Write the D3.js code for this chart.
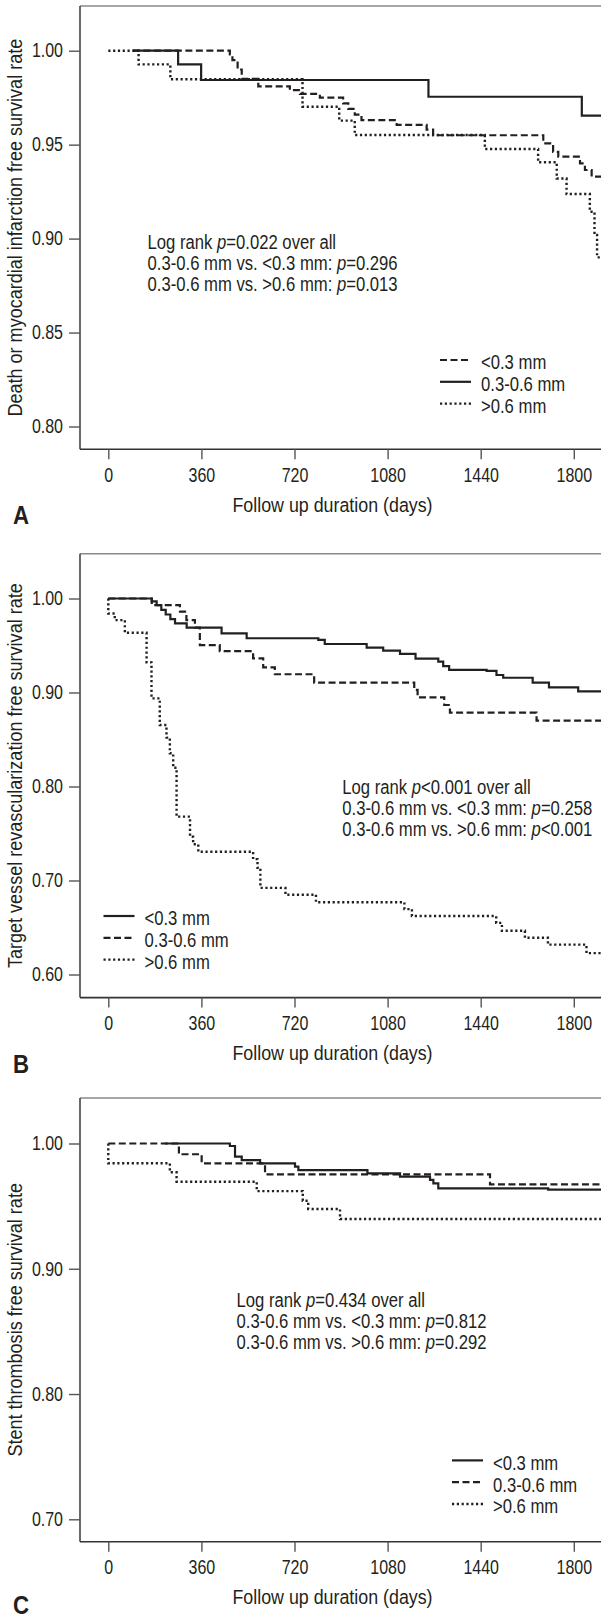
<!DOCTYPE html>
<html>
<head>
<meta charset="utf-8">
<script src="https://cdn.jsdelivr.net/npm/d3@7"></script>
<style>
  body { margin: 0; background: #fff; }
  svg { display: block; font-family: "Liberation Sans", Arial, sans-serif; }
</style>
</head>
<body>
<svg id="chart"></svg>
<script>
// follow up days, shared by the three panels
const dayTicks = [0, 360, 720, 1080, 1440, 1800];

// A: death or MI free survival, [day, rate] at each step
const aTicks = [0.80, 0.85, 0.90, 0.95, 1.00];
const aLow = [[95,1],[470,0.998],[480,0.995],[500,0.990],[516,0.985],[580,0.981],[702,0.979],[741,0.977],[818,0.975],[908,0.972],[928,0.969],[953,0.966],[979,0.963],[1115,0.9605],[1231,0.958],[1256,0.955],[1682,0.9507],[1720,0.9462],[1740,0.9436],[1824,0.940],[1843,0.9365],[1869,0.933],[1930,0.933]];
const aMid = [[95,1],[270,0.9927],[359,0.9844],[1238,0.9755],[1831,0.9654],[1930,0.9654]];
const aHigh = [[0,1],[117,0.9927],[240,0.9848],[751,0.9702],[893,0.9628],[953,0.9551],[1456,0.9477],[1662,0.9406],[1734,0.932],[1772,0.9237],[1862,0.9143],[1880,0.902],[1890,0.890],[1930,0.890]];
const aStats = ["Log rank |p|=0.022 over all", "0.3-0.6 mm vs. <0.3 mm: |p|=0.296", "0.3-0.6 mm vs. >0.6 mm: |p|=0.013"];

// B: target vessel revascularization free survival
const bTicks = [0.60, 0.70, 0.80, 0.90, 1.00];
const bLow = [[0,1],[168,0.997],[187,0.993],[205,0.988],[222,0.983],[240,0.978],[258,0.9736],[303,0.969],[438,0.963],[535,0.9577],[812,0.9559],[837,0.9516],[999,0.9477],[1063,0.9445],[1128,0.941],[1188,0.936],[1276,0.9328],[1295,0.928],[1318,0.924],[1463,0.9229],[1501,0.9186],[1527,0.9157],[1641,0.9104],[1704,0.9055],[1817,0.9013],[1930,0.9013]];
const bMid = [[0,1],[168,0.993],[277,0.986],[302,0.977],[335,0.969],[354,0.9505],[431,0.944],[560,0.9364],[599,0.9268],[644,0.9194],[796,0.9104],[1183,0.9027],[1196,0.8949],[1299,0.8867],[1321,0.8785],[1656,0.870],[1930,0.870]];
const bHigh = [[0,1],[0,0.984],[25,0.977],[64,0.9636],[148,0.932],[167,0.8938],[199,0.8654],[225,0.852],[238,0.8353],[251,0.82],[264,0.7679],[316,0.7466],[328,0.7385],[348,0.7306],[560,0.7227],[577,0.7135],[588,0.6922],[685,0.6849],[803,0.6769],[1145,0.6696],[1174,0.6622],[1500,0.6549],[1522,0.6465],[1611,0.6391],[1700,0.6318],[1849,0.6227],[1930,0.6227]];
const bStats = ["Log rank |p|<0.001 over all", "0.3-0.6 mm vs. <0.3 mm: |p|=0.258", "0.3-0.6 mm vs. >0.6 mm: |p|<0.001"];

// C: stent thrombosis free survival
const cTicks = [0.70, 0.80, 0.90, 1.00];
const cLow = [[218,1],[470,0.998],[490,0.9895],[516,0.9868],[587,0.9842],[722,0.9815],[735,0.9788],[1002,0.9762],[1128,0.9735],[1244,0.9709],[1257,0.9682],[1276,0.9642],[1701,0.9631],[1930,0.9631]];
const cMid = [[0,1],[273,0.9914],[361,0.9842],[606,0.9754],[1476,0.9674],[1930,0.9674]];
const cHigh = [[0,1],[0,0.9842],[238,0.977],[264,0.9695],[574,0.962],[752,0.9543],[773,0.9477],[896,0.9397],[1930,0.9397]];
const cStats = ["Log rank |p|=0.434 over all", "0.3-0.6 mm vs. <0.3 mm: |p|=0.812", "0.3-0.6 mm vs. >0.6 mm: |p|=0.292"];

const groupNames = ["<0.3 mm", "0.3-0.6 mm", ">0.6 mm"];

const ink = "#231f20";
const dashes = {solid: null, dashed: "7,3.5", dotted: "2.2,2.6"};

const width = 601, height = 1617;
const frameLeft = 80, frameRight = 640;

const x = d3.scaleLinear().domain([0, 1800]).range([108.3, 573.8]);

const panels = [
  {letter: "A", top: 6, bottom: 449.3, yRange: [426.5, 50.7], ticks: aTicks,
   yLabel: "Death or myocardial infarction free survival rate",
   series: [{data: aLow, style: "dashed"}, {data: aMid, style: "solid"}, {data: aHigh, style: "dotted"}],
   stats: aStats, statsAt: [147.6, 249.5], legendAt: [440, 360]},
  {letter: "B", top: 553.7, bottom: 997.6, yRange: [974.5, 598.5], ticks: bTicks,
   yLabel: "Target vessel revascularization free survival rate",
   series: [{data: bMid, style: "dashed"}, {data: bLow, style: "solid"}, {data: bHigh, style: "dotted"}],
   stats: bStats, statsAt: [342.3, 794], legendAt: [103.5, 916]},
  {letter: "C", top: 1098, bottom: 1541.7, yRange: [1519.3, 1143.5], ticks: cTicks,
   yLabel: "Stent thrombosis free survival rate",
   series: [{data: cMid, style: "dashed"}, {data: cLow, style: "solid"}, {data: cHigh, style: "dotted"}],
   stats: cStats, statsAt: [236.5, 1307.5], legendAt: [452, 1460.4]}
];

// legend order differs from panel A to B/C
const legendStyles = {A: ["dashed", "solid", "dotted"], B: ["solid", "dashed", "dotted"], C: ["solid", "dashed", "dotted"]};

// the original uses a condensed face; squeeze Liberation Sans horizontally
function narrow(sel, k) {
  sel.each(function() {
    const t = d3.select(this);
    const x0 = +t.attr("x") || 0;
    t.attr("x", x0 / k).attr("transform", `${t.attr("transform") || ""} scale(${k},1)`);
  });
}

const svg = d3.select("#chart").attr("width", width).attr("height", height);

panels.forEach(p => {
  const y = d3.scaleLinear().domain([p.ticks[0], 1]).range(p.yRange);
  const g = svg.append("g");

  // frame
  g.append("line").attr("x1", frameLeft).attr("x2", frameRight).attr("y1", p.top).attr("y2", p.top)
    .attr("stroke", "#8a8a8a").attr("stroke-width", 1.6);
  g.append("line").attr("x1", frameLeft).attr("x2", frameLeft).attr("y1", p.top).attr("y2", p.bottom)
    .attr("stroke", "#444").attr("stroke-width", 1.6);
  g.append("line").attr("x1", frameLeft).attr("x2", frameRight).attr("y1", p.bottom).attr("y2", p.bottom)
    .attr("stroke", "#333").attr("stroke-width", 1.6);

  // axes
  const yAxis = g.append("g").attr("transform", `translate(${frameLeft},0)`)
    .call(d3.axisLeft(y).tickValues(p.ticks).tickFormat(d3.format(".2f")).tickSize(11).tickPadding(6));
  const xAxis = g.append("g").attr("transform", `translate(0,${p.bottom})`)
    .call(d3.axisBottom(x).tickValues(dayTicks).tickFormat(d3.format("d")).tickSize(10).tickPadding(8.5));
  [yAxis, xAxis].forEach(a => {
    a.select(".domain").remove();
    a.attr("font-family", null).attr("font-size", null);
    a.selectAll(".tick line").attr("stroke", "#555").attr("stroke-width", 1.4);
    a.selectAll("text").attr("fill", ink).style("font-size", "19.5px").call(narrow, 0.82);
  });

  // curves
  const line = d3.line().x(d => x(d[0])).y(d => y(d[1])).curve(d3.curveStepAfter);
  p.series.forEach(s => {
    g.append("path").datum(s.data).attr("d", line)
      .attr("fill", "none").attr("stroke", ink).attr("stroke-width", s.style === "dotted" ? 2.4 : 2.2)
      .attr("stroke-dasharray", dashes[s.style]);
  });

  // log rank text
  p.stats.forEach((t, i) => {
    const txt = g.append("text").attr("x", p.statsAt[0]).attr("y", p.statsAt[1] + i * 21)
      .attr("fill", ink).style("font-size", "19.5px");
    t.split("|").forEach((part, j) => {
      txt.append("tspan").text(part).style("font-style", j % 2 ? "italic" : "normal");
    });
    txt.call(narrow, 0.855);
  });

  // legend
  legendStyles[p.letter].forEach((st, i) => {
    const ly = p.legendAt[1] + i * 21.8;
    g.append("line").attr("x1", p.legendAt[0]).attr("x2", p.legendAt[0] + 31).attr("y1", ly).attr("y2", ly)
      .attr("stroke", ink).attr("stroke-width", st === "dotted" ? 2.4 : 2.2).attr("stroke-dasharray", dashes[st]);
    g.append("text").attr("x", p.legendAt[0] + 41).attr("y", ly + 9.5)
      .attr("fill", ink).style("font-size", "19.5px").text(groupNames[i]).call(narrow, 0.855);
  });

  // axis titles
  g.append("text").attr("transform", `translate(22,${(p.top + p.bottom) / 2}) rotate(-90)`)
    .attr("text-anchor", "middle").attr("fill", ink).style("font-size", "20.5px").text(p.yLabel)
    .call(narrow, 0.88);
  g.append("text").attr("x", 332.5).attr("y", p.bottom + 62.5)
    .attr("text-anchor", "middle").attr("fill", ink).style("font-size", "20.5px").text("Follow up duration (days)")
    .call(narrow, 0.87);

  // panel letter
  g.append("text").attr("x", 13).attr("y", Math.min(p.bottom + 75, height - 3))
    .attr("fill", ink).style("font-size", "26.5px").style("font-weight", "bold").text(p.letter)
    .call(narrow, 0.84);
});
</script>
</body>
</html>
